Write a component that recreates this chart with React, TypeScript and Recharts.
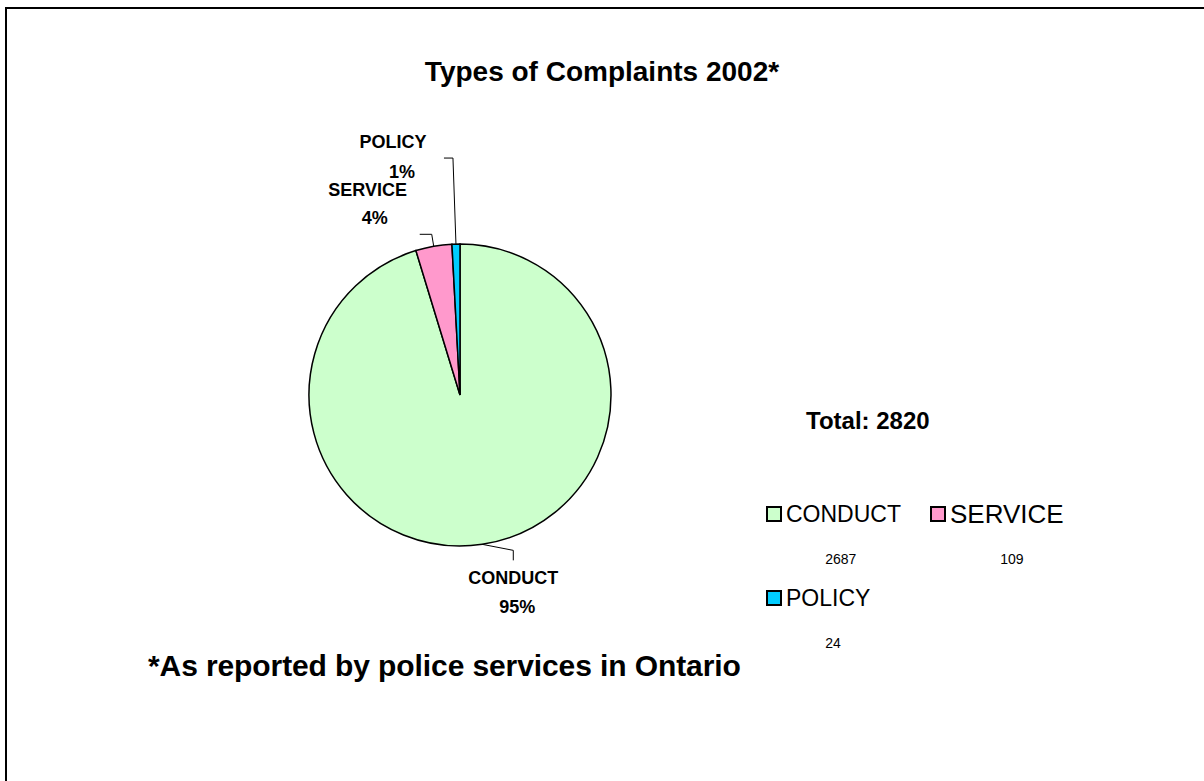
import { Legend, Pie, PieChart } from "recharts";

const CATEGORIES = ["CONDUCT", "SERVICE", "POLICY"];
const COUNTS = [2687, 109, 24];
const TOTAL = 2820;
const COLORS = ["#CCFFCC", "#FF99CC", "#00CCFF"];

const FONT = "'Liberation Sans', Arial, sans-serif";
const RADIAN = Math.PI / 180;

const data = CATEGORIES.map((name, i) => ({ name, value: COUNTS[i], fill: COLORS[i] }));

// label offsets from the slice's mid point on the rim
const LABEL_LAYOUT: Record<string, { elbow: number[]; end: number[]; name: number[]; pct: number[] }> = {
  CONDUCT: { elbow: [31, 6], end: [31, 16], name: [31, 34], pct: [35, 63] },
  SERVICE: { elbow: [-2, -12], end: [-14, -12], name: [-66, -56], pct: [-59, -28] },
  POLICY: { elbow: [-3, -86], end: [-12, -86], name: [-63, -102], pct: [-54, -72] },
};

const renderLabel = (props: any) => {
  const { cx, cy, midAngle, outerRadius, percent, name } = props;
  const x = cx + outerRadius * Math.cos(-midAngle * RADIAN);
  const y = cy + outerRadius * Math.sin(-midAngle * RADIAN);
  const l = LABEL_LAYOUT[name];
  const pts = [
    [x, y],
    [x + l.elbow[0], y + l.elbow[1]],
    [x + l.end[0], y + l.end[1]],
  ]
    .map((p) => p.join(","))
    .join(" ");
  const txt = { textAnchor: "middle" as const, dominantBaseline: "central" as const, fontFamily: FONT, fontWeight: "bold", fontSize: 18, fill: "#000" };
  return (
    <g>
      <polyline points={pts} fill="none" stroke="#000" strokeWidth={1} />
      <text x={x + l.name[0]} y={y + l.name[1]} {...txt}>
        {name}
      </text>
      <text x={x + l.pct[0]} y={y + l.pct[1]} {...txt}>
        {Math.round(percent * 100)}%
      </text>
    </g>
  );
};

const LegendItem = ({ name, color, count, size, width }: { name: string; color: string; count: number; size: number; width: number }) => (
  <div style={{ display: "inline-block", verticalAlign: "top", width }}>
    <div style={{ display: "flex", alignItems: "center", height: 30 }}>
      <span
        style={{
          display: "inline-block",
          width: 12,
          height: 12,
          background: color,
          border: "2px solid #000",
          marginRight: 4,
          flexShrink: 0,
        }}
      />
      <span style={{ fontSize: size, lineHeight: "30px", whiteSpace: "nowrap" }}>{name}</span>
    </div>
    <div style={{ fontSize: 14, width: 16 + name.length * size * 0.68, textAlign: "center", paddingLeft: 12, marginTop: 22 }}>
      {count}
    </div>
  </div>
);

const renderLegend = () => (
  <div style={{ fontFamily: FONT, color: "#000", width: 340 }}>
    <div style={{ whiteSpace: "nowrap" }}>
      <LegendItem name={CATEGORIES[0]} color={COLORS[0]} count={COUNTS[0]} size={23} width={164} />
      <LegendItem name={CATEGORIES[1]} color={COLORS[1]} count={COUNTS[1]} size={26} width={160} />
    </div>
    <div style={{ marginTop: 16 }}>
      <LegendItem name={CATEGORIES[2]} color={COLORS[2]} count={COUNTS[2]} size={23} width={164} />
    </div>
  </div>
);

export default function App() {
  return (
    <div style={{ position: "absolute", left: 0, top: 0, width: 1204, height: 781, background: "#fff", overflow: "hidden" }}>
      <div
        style={{
          position: "absolute",
          left: 5,
          top: 7,
          width: 1300,
          height: 900,
          borderTop: "2px solid #000",
          borderLeft: "2px solid #000",
        }}
      />
      <div
        style={{
          position: "absolute",
          left: 0,
          width: 1204,
          top: 56,
          textAlign: "center",
          fontFamily: FONT,
          fontWeight: "bold",
          fontSize: 28,
        }}
      >
        Types of Complaints 2002*
      </div>
      <PieChart
        width={1204}
        height={781}
        margin={{ top: 0, right: 0, bottom: 0, left: 0 }}
        style={{ position: "absolute", left: 0, top: 0 }}
      >
        <Pie
          data={data}
          dataKey="value"
          nameKey="name"
          cx={460}
          cy={395}
          outerRadius={151}
          startAngle={90}
          endAngle={-270}
          stroke="#000"
          strokeWidth={1.5}
          label={renderLabel}
          labelLine={false}
          isAnimationActive={false}
        />
        <Legend content={renderLegend} wrapperStyle={{ position: "absolute", left: 766, top: 499, width: 340 }} />
      </PieChart>
      <div
        style={{
          position: "absolute",
          left: 806,
          top: 407,
          fontFamily: FONT,
          fontWeight: "bold",
          fontSize: 24,
        }}
      >
        Total: {TOTAL}
      </div>
      <div
        style={{
          position: "absolute",
          left: 148,
          top: 649,
          fontFamily: FONT,
          fontWeight: "bold",
          fontSize: 30,
          letterSpacing: -0.1,
        }}
      >
        *As reported by police services in Ontario
      </div>
    </div>
  );
}
